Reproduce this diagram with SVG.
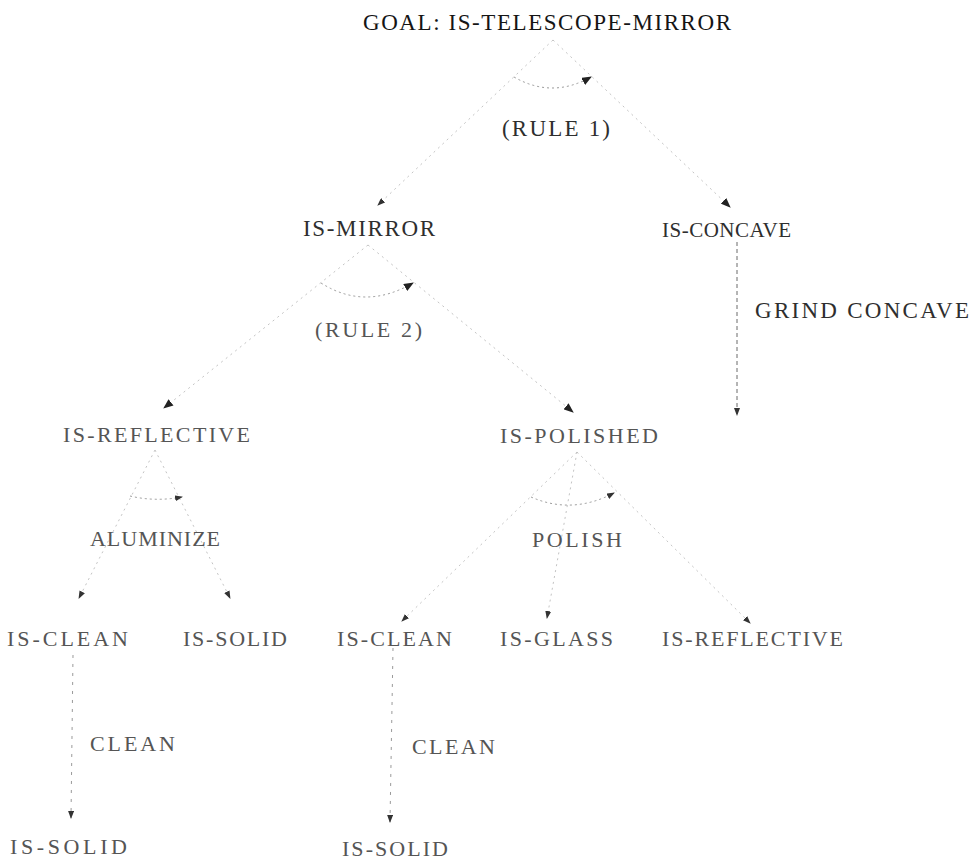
<svg xmlns="http://www.w3.org/2000/svg" width="975" height="860" viewBox="0 0 975 860">
<style>
text{font-family:"Liberation Serif","Times New Roman",serif;font-size:22px;fill:#3a3a3a}
.goal{font-size:23px;fill:#151515}
.mid{font-size:23px;fill:#2e2e2e}
.low{fill:#555}
.diag{fill:none;stroke:#c4c4c4;stroke-width:1;stroke-dasharray:2 4}
.arc{fill:none;stroke:#9a9a9a;stroke-width:1;stroke-dasharray:2 3}
.vline{fill:none;stroke:#6a6a6a;stroke-width:1;stroke-dasharray:4 3}
.vfaint{fill:none;stroke:#9a9a9a;stroke-width:1;stroke-dasharray:3 6}
</style>
<defs>
<marker id="ah" markerUnits="userSpaceOnUse" markerWidth="10" markerHeight="8" refX="9" refY="4" orient="auto">
<path d="M0,0 L10,4 L0,8 Z" fill="#222"/>
</marker>
<marker id="ahs" markerUnits="userSpaceOnUse" markerWidth="8" markerHeight="6" refX="7" refY="3" orient="auto">
<path d="M0,0 L8,3 L0,6 Z" fill="#333"/>
</marker>
</defs>
<g id="connectors">
<line class="diag" x1="553" y1="40" x2="730" y2="207" marker-end="url(#ah)"/>
<line class="diag" x1="553" y1="40" x2="378" y2="205" marker-end="url(#ahs)"/>
<path class="arc" d="M514,77 Q552,99 591,77" marker-end="url(#ah)"/>
<line class="diag" x1="368" y1="245" x2="164" y2="408" marker-end="url(#ah)"/>
<line class="diag" x1="368" y1="245" x2="573" y2="412" marker-end="url(#ah)"/>
<path class="arc" d="M321,283 Q365,311 413,283" marker-end="url(#ah)"/>
<line class="vline" x1="737" y1="242" x2="737" y2="415" marker-end="url(#ahs)"/>
<line class="diag" x1="155" y1="450" x2="79" y2="598" marker-end="url(#ahs)"/>
<line class="diag" x1="155" y1="450" x2="230" y2="598" marker-end="url(#ahs)"/>
<path class="arc" d="M130,496 Q155,502 182,497" marker-end="url(#ahs)"/>
<line class="diag" x1="577" y1="452" x2="402" y2="621" marker-end="url(#ahs)"/>
<line class="diag" x1="577" y1="452" x2="547" y2="618" marker-end="url(#ahs)"/>
<line class="diag" x1="577" y1="452" x2="750" y2="623" marker-end="url(#ahs)"/>
<path class="arc" d="M531,497 Q572,515 614,493" marker-end="url(#ahs)"/>
<line class="vfaint" x1="73" y1="655" x2="71" y2="818" marker-end="url(#ahs)"/>
<line class="vfaint" x1="393" y1="648" x2="390" y2="822" marker-end="url(#ahs)"/>
</g>
<g id="goal"><text class="goal" x="363" y="30" textLength="368" lengthAdjust="spacing">GOAL: IS-TELESCOPE-MIRROR</text></g>
<g id="rule1"><text class="mid" x="502" y="136" textLength="108" lengthAdjust="spacing">(RULE 1)</text></g>
<g id="is-mirror"><text class="mid" x="303" y="236" textLength="132" lengthAdjust="spacing">IS-MIRROR</text></g>
<g id="is-concave"><text class="mid" x="662" y="237" style="font-size:21px" textLength="129" lengthAdjust="spacing">IS-CONCAVE</text></g>
<g id="grind-concave"><text class="mid" x="755" y="318" textLength="214" lengthAdjust="spacing">GRIND CONCAVE</text></g>
<g id="rule2"><text class="low" x="315" y="337" textLength="107" lengthAdjust="spacing">(RULE 2)</text></g>
<g id="is-reflective-1"><text class="low" x="63" y="442" textLength="187" lengthAdjust="spacing">IS-REFLECTIVE</text></g>
<g id="aluminize"><text class="low" x="90" y="546" textLength="130" lengthAdjust="spacing">ALUMINIZE</text></g>
<g id="is-polished"><text class="low" x="500" y="443" textLength="158" lengthAdjust="spacing">IS-POLISHED</text></g>
<g id="polish"><text class="low" x="532" y="547" textLength="90" lengthAdjust="spacing">POLISH</text></g>
<g id="is-clean-1"><text class="low" x="7" y="646" textLength="121" lengthAdjust="spacing">IS-CLEAN</text></g>
<g id="is-solid-1"><text class="low" x="183" y="646" textLength="104" lengthAdjust="spacing">IS-SOLID</text></g>
<g id="is-clean-2"><text class="low" x="337" y="646" textLength="115" lengthAdjust="spacing">IS-CLEAN</text></g>
<g id="is-glass"><text class="low" x="500" y="646" textLength="113" lengthAdjust="spacing">IS-GLASS</text></g>
<g id="is-reflective-2"><text class="low" x="662" y="646" textLength="181" lengthAdjust="spacing">IS-REFLECTIVE</text></g>
<g id="clean-1"><text class="low" x="90" y="751" textLength="85" lengthAdjust="spacing">CLEAN</text></g>
<g id="clean-2"><text class="low" x="412" y="754" textLength="83" lengthAdjust="spacing">CLEAN</text></g>
<g id="is-solid-2"><text class="low" x="10" y="854" textLength="117" lengthAdjust="spacing">IS-SOLID</text></g>
<g id="is-solid-3"><text class="low" x="342" y="856" textLength="106" lengthAdjust="spacing">IS-SOLID</text></g>
</svg>
